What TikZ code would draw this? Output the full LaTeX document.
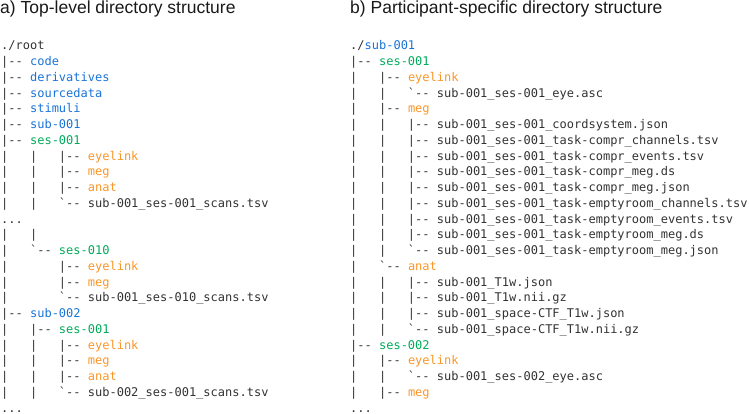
\documentclass[tikz,border=0pt]{standalone}
\usepackage{fontspec}
\setmainfont{Liberation Sans}
\setmonofont{DejaVu Sans Mono}
\usepackage{tikz}

\definecolor{treegray}{RGB}{50,50,50}
\definecolor{subblue}{RGB}{25,115,215}
\definecolor{sesgreen}{RGB}{0,170,90}
\definecolor{modorange}{RGB}{250,150,40}

\newcommand{\clsub}[1]{\textcolor{subblue}{#1}}
\newcommand{\clses}[1]{\textcolor{sesgreen}{#1}}
\newcommand{\clmod}[1]{\textcolor{modorange}{#1}}

\tikzset{
  tree/.style={anchor=base west, inner sep=0pt, text=treegray,
    font=\ttfamily\fontsize{12}{14}\selectfont},
  title/.style={anchor=base west, inner sep=0pt, text=black!90,
    font=\fontsize{17.5}{20}\selectfont}
}

\begin{document}
\begin{tikzpicture}[x=1pt,y=-1pt]
\useasboundingbox (0,0) rectangle (749,414);

% a) top-level
\node[title] (ta) at (0,14) {a) Top-level directory structure};
\node[tree] (a0) at (1,50.0) {./root};
\node[tree] (a1) at (1,65.7) {|--~\clsub{code}};
\node[tree] (a2) at (1,81.5) {|--~\clsub{derivatives}};
\node[tree] (a3) at (1,97.2) {|--~\clsub{sourcedata}};
\node[tree] (a4) at (1,113.0) {|--~\clsub{stimuli}};
\node[tree] (a5) at (1,128.7) {|--~\clsub{sub-001}};
\node[tree] (a6) at (1,144.4) {|--~\clses{ses-001}};
\node[tree] (a7) at (1,160.2) {|~~~|~~~|--~\clmod{eyelink}};
\node[tree] (a8) at (1,175.9) {|~~~|~~~|--~\clmod{meg}};
\node[tree] (a9) at (1,191.7) {|~~~|~~~|--~\clmod{anat}};
\node[tree] (a10) at (1,207.4) {|~~~|~~~`--~sub-001\_ses-001\_scans.tsv};
\node[tree] (a11) at (1,223.1) {...};
\node[tree] (a12) at (1,238.9) {|~~~|};
\node[tree] (a13) at (1,254.6) {|~~~`--~\clses{ses-010}};
\node[tree] (a14) at (1,270.4) {|~~~~~~~|--~\clmod{eyelink}};
\node[tree] (a15) at (1,286.1) {|~~~~~~~|--~\clmod{meg}};
\node[tree] (a16) at (1,301.8) {|~~~~~~~`--~sub-001\_ses-010\_scans.tsv};
\node[tree] (a17) at (1,317.6) {|--~\clsub{sub-002}};
\node[tree] (a18) at (1,333.3) {|~~~|--~\clses{ses-001}};
\node[tree] (a19) at (1,349.1) {|~~~|~~~|--~\clmod{eyelink}};
\node[tree] (a20) at (1,364.8) {|~~~|~~~|--~\clmod{meg}};
\node[tree] (a21) at (1,380.5) {|~~~|~~~|--~\clmod{anat}};
\node[tree] (a22) at (1,396.3) {|~~~|~~~`--~sub-002\_ses-001\_scans.tsv};
\node[tree] (a23) at (1,412.0) {...};

% b) participant-specific
\node[title] (tb) at (350,14) {b) Participant-specific directory structure};
\node[tree] (b0) at (350,50.0) {./\clsub{sub-001}};
\node[tree] (b1) at (350,65.7) {|--~\clses{ses-001}};
\node[tree] (b2) at (350,81.5) {|~~~|--~\clmod{eyelink}};
\node[tree] (b3) at (350,97.2) {|~~~|~~~`--~sub-001\_ses-001\_eye.asc};
\node[tree] (b4) at (350,113.0) {|~~~|--~\clmod{meg}};
\node[tree] (b5) at (350,128.7) {|~~~|~~~|--~sub-001\_ses-001\_coordsystem.json};
\node[tree] (b6) at (350,144.4) {|~~~|~~~|--~sub-001\_ses-001\_task-compr\_channels.tsv};
\node[tree] (b7) at (350,160.2) {|~~~|~~~|--~sub-001\_ses-001\_task-compr\_events.tsv};
\node[tree] (b8) at (350,175.9) {|~~~|~~~|--~sub-001\_ses-001\_task-compr\_meg.ds};
\node[tree] (b9) at (350,191.7) {|~~~|~~~|--~sub-001\_ses-001\_task-compr\_meg.json};
\node[tree] (b10) at (350,207.4) {|~~~|~~~|--~sub-001\_ses-001\_task-emptyroom\_channels.tsv};
\node[tree] (b11) at (350,223.1) {|~~~|~~~|--~sub-001\_ses-001\_task-emptyroom\_events.tsv};
\node[tree] (b12) at (350,238.9) {|~~~|~~~|--~sub-001\_ses-001\_task-emptyroom\_meg.ds};
\node[tree] (b13) at (350,254.6) {|~~~|~~~`--~sub-001\_ses-001\_task-emptyroom\_meg.json};
\node[tree] (b14) at (350,270.4) {|~~~`--~\clmod{anat}};
\node[tree] (b15) at (350,286.1) {|~~~|~~~|--~sub-001\_T1w.json};
\node[tree] (b16) at (350,301.8) {|~~~|~~~|--~sub-001\_T1w.nii.gz};
\node[tree] (b17) at (350,317.6) {|~~~|~~~|--~sub-001\_space-CTF\_T1w.json};
\node[tree] (b18) at (350,333.3) {|~~~|~~~`--~sub-001\_space-CTF\_T1w.nii.gz};
\node[tree] (b19) at (350,349.1) {|--~\clses{ses-002}};
\node[tree] (b20) at (350,364.8) {|~~~|--~\clmod{eyelink}};
\node[tree] (b21) at (350,380.5) {|~~~|~~~`--~sub-001\_ses-002\_eye.asc};
\node[tree] (b22) at (350,396.3) {|~~~|--~\clmod{meg}};
\node[tree] (b23) at (350,412.0) {...};
\end{tikzpicture}
\end{document}
